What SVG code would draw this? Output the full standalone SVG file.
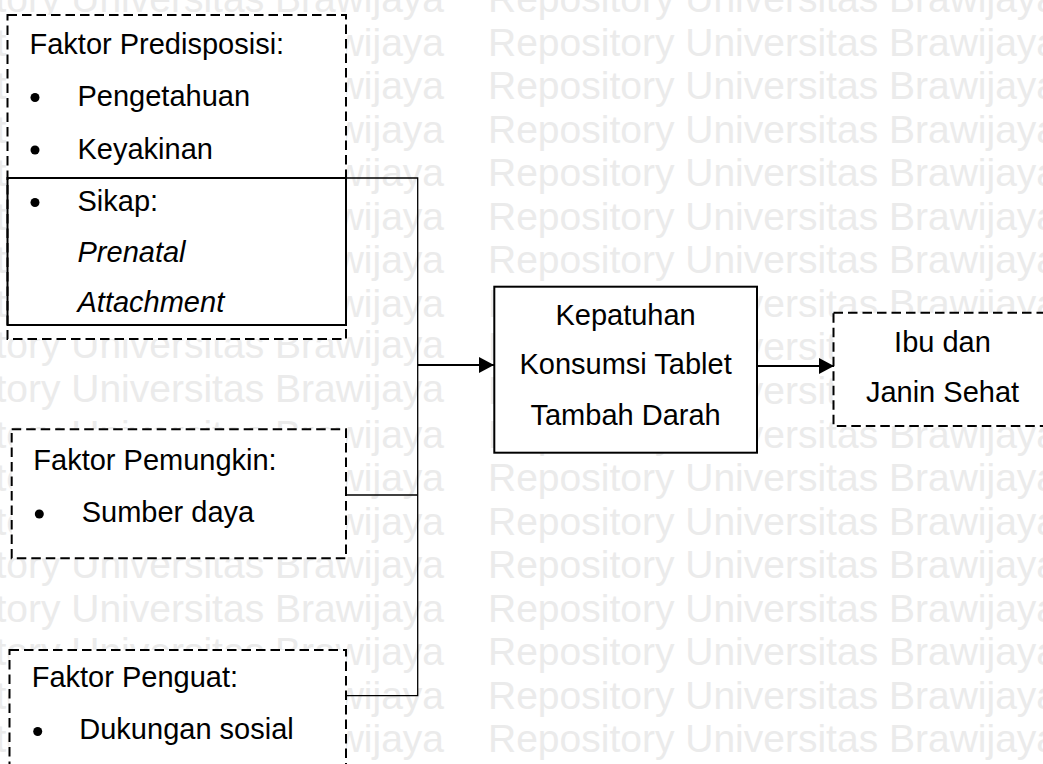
<svg xmlns="http://www.w3.org/2000/svg" width="1043" height="764" viewBox="0 0 1043 764">
  <style>
    .wm { font-family: "Liberation Sans", Arial, sans-serif; font-size: 39px; fill: #ebebeb; }
    .t { font-family: "Liberation Sans", Arial, sans-serif; font-size: 29px; fill: #000; }
    .it { font-style: italic; }
    .mid { text-anchor: middle; }
    .box { fill: #fff; stroke: #000; stroke-width: 2; }
    .dash { fill: #fff; stroke: #000; stroke-width: 2; stroke-dasharray: 9.5 5; }
    .solid { fill: none; stroke: #000; stroke-width: 2; }
    .conn { fill: none; stroke: #000; stroke-width: 1.3; }
    .arr { fill: none; stroke: #000; stroke-width: 2; }
  </style>
  <defs>
    <marker id="ah" viewBox="0 0 15 16" refX="15" refY="8" markerWidth="15" markerHeight="16" markerUnits="userSpaceOnUse" orient="auto">
      <path d="M0,0 L15,8 L0,16 z" fill="#000"/>
    </marker>
  </defs>
  <rect width="1043" height="764" fill="#fff"/>
  <g id="watermark" class="wm">
    <text x="-126" y="12">Repository Universitas Brawijaya</text>
    <text x="-126" y="55.5">Repository Universitas Brawijaya</text>
    <text x="-126" y="99.1">Repository Universitas Brawijaya</text>
    <text x="-126" y="142.6">Repository Universitas Brawijaya</text>
    <text x="-126" y="186.2">Repository Universitas Brawijaya</text>
    <text x="-126" y="229.7">Repository Universitas Brawijaya</text>
    <text x="-126" y="273.3">Repository Universitas Brawijaya</text>
    <text x="-126" y="316.8">Repository Universitas Brawijaya</text>
    <text x="-126" y="358">Repository Universitas Brawijaya</text>
    <text x="-126" y="402">Repository Universitas Brawijaya</text>
    <text x="-126" y="447.5">Repository Universitas Brawijaya</text>
    <text x="-126" y="491">Repository Universitas Brawijaya</text>
    <text x="-126" y="534.6">Repository Universitas Brawijaya</text>
    <text x="-126" y="578.1">Repository Universitas Brawijaya</text>
    <text x="-126" y="621.7">Repository Universitas Brawijaya</text>
    <text x="-126" y="665.2">Repository Universitas Brawijaya</text>
    <text x="-126" y="708.8">Repository Universitas Brawijaya</text>
    <text x="-126" y="752.3">Repository Universitas Brawijaya</text>
    <text x="488" y="12">Repository Universitas Brawijaya</text>
    <text x="488" y="55.5">Repository Universitas Brawijaya</text>
    <text x="488" y="99.1">Repository Universitas Brawijaya</text>
    <text x="488" y="142.6">Repository Universitas Brawijaya</text>
    <text x="488" y="186.2">Repository Universitas Brawijaya</text>
    <text x="488" y="229.7">Repository Universitas Brawijaya</text>
    <text x="488" y="273.3">Repository Universitas Brawijaya</text>
    <text x="488" y="316.8">Repository Universitas Brawijaya</text>
    <text x="488" y="360.4">Repository Universitas Brawijaya</text>
    <text x="488" y="403.9">Repository Universitas Brawijaya</text>
    <text x="488" y="447.5">Repository Universitas Brawijaya</text>
    <text x="488" y="491">Repository Universitas Brawijaya</text>
    <text x="488" y="534.6">Repository Universitas Brawijaya</text>
    <text x="488" y="578.1">Repository Universitas Brawijaya</text>
    <text x="488" y="621.7">Repository Universitas Brawijaya</text>
    <text x="488" y="665.2">Repository Universitas Brawijaya</text>
    <text x="488" y="708.8">Repository Universitas Brawijaya</text>
    <text x="488" y="752.3">Repository Universitas Brawijaya</text>
  </g>

  <g id="predisposisi">
    <rect class="dash" x="7.5" y="15" width="338.5" height="324"/>
    <rect class="solid" x="7.5" y="178" width="338.5" height="147"/>
    <text class="t" x="29.5" y="53.5">Faktor Predisposisi:</text>
    <circle cx="35" cy="97.5" r="4.5"/>
    <text class="t" x="77.5" y="106">Pengetahuan</text>
    <circle cx="35" cy="150" r="4.5"/>
    <text class="t" x="77.5" y="158.5">Keyakinan</text>
    <circle cx="35" cy="202.5" r="4.5"/>
    <text class="t" x="77.5" y="211">Sikap:</text>
    <text class="t it" x="77.5" y="262">Prenatal</text>
    <text class="t it" x="77.5" y="312">Attachment</text>
  </g>

  <g id="pemungkin">
    <rect class="dash" x="11.7" y="429.3" width="334.3" height="129"/>
    <text class="t" x="33.3" y="469.5">Faktor Pemungkin:</text>
    <circle cx="39.3" cy="514" r="4.5"/>
    <text class="t" x="81.7" y="522">Sumber daya</text>
  </g>

  <g id="penguat">
    <rect class="dash" x="9.5" y="650" width="336.5" height="130"/>
    <text class="t" x="31.7" y="687">Faktor Penguat:</text>
    <circle cx="37.7" cy="731.5" r="4.5"/>
    <text class="t" x="79.3" y="739">Dukungan sosial</text>
  </g>

  <g id="kepatuhan">
    <rect class="box" x="494.3" y="286.7" width="262.7" height="166"/>
    <text class="t mid" x="625.6" y="324.5">Kepatuhan</text>
    <text class="t mid" x="625.6" y="374">Konsumsi Tablet</text>
    <text class="t mid" x="625.6" y="425">Tambah Darah</text>
  </g>

  <g id="ibu-janin">
    <rect class="dash" x="833.5" y="312.7" width="218" height="113.3"/>
    <text class="t mid" x="942.5" y="352">Ibu dan</text>
    <text class="t mid" x="942.5" y="402">Janin Sehat</text>
  </g>

  <g id="connectors">
    <path class="conn" d="M346,178 H417.7 V695.7 H346"/>
    <path class="conn" d="M346,495 H417.7"/>
    <line class="arr" x1="417.7" y1="365" x2="494" y2="365" marker-end="url(#ah)"/>
    <line class="arr" x1="757" y1="366" x2="834" y2="366" marker-end="url(#ah)"/>
  </g>
</svg>
